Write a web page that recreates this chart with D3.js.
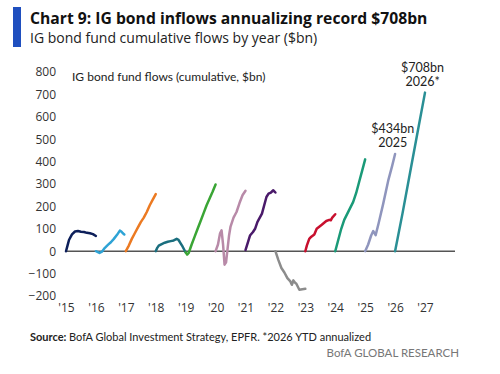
<!DOCTYPE html>
<html>
<head>
<meta charset="utf-8">
<script src="https://cdn.jsdelivr.net/npm/d3@7"></script>
<style>
  body { margin: 0; background: #fff; }
  svg { font-family: "Open Sans", "Noto Sans", sans-serif; }
</style>
</head>
<body>
<div id="chart"></div>
<script>
// cumulative IG bond fund flows, $bn, as [fraction of year, value]
const years = [2015, 2016, 2017, 2018, 2019, 2020, 2021, 2022, 2023, 2024, 2025, 2026];
const flows2015 = [[0,0],[0.05,25],[0.1,50],[0.2,75],[0.3,88],[0.4,90],[0.5,87],[0.6,86],[0.7,82],[0.8,80],[0.9,76],[1,68]];
const flows2016 = [[0,0],[0.05,-3],[0.12,-8],[0.2,-2],[0.3,15],[0.4,28],[0.5,40],[0.6,55],[0.7,72],[0.8,92],[0.85,88],[0.9,80],[0.95,75]];
const flows2017 = [[0,0],[0.1,25],[0.2,55],[0.3,80],[0.4,105],[0.5,130],[0.6,150],[0.7,175],[0.8,205],[0.9,230],[1,255]];
const flows2018 = [[0,0],[0.05,15],[0.1,25],[0.2,32],[0.3,38],[0.4,42],[0.5,45],[0.6,48],[0.7,55],[0.75,52],[0.8,42],[0.9,20],[0.97,2],[1,-5]];
const flows2019 = [[0,-5],[0.05,-15],[0.1,-8],[0.2,30],[0.3,65],[0.4,100],[0.5,135],[0.6,170],[0.7,205],[0.8,235],[0.9,265],[1,298]];
const flows2020 = [[0,0],[0.08,30],[0.15,80],[0.2,93],[0.25,30],[0.3,-60],[0.35,-50],[0.4,10],[0.45,70],[0.5,110],[0.6,150],[0.7,175],[0.8,215],[0.9,250],[1,270]];
const flows2021 = [[0,5],[0.15,70],[0.25,86],[0.32,100],[0.4,131],[0.55,168],[0.7,242],[0.77,257],[0.85,262],[0.93,272],[1,262]];
const flows2022 = [[0,0],[0.1,-40],[0.2,-75],[0.3,-95],[0.4,-120],[0.5,-135],[0.55,-150],[0.6,-130],[0.65,-140],[0.7,-145],[0.8,-172],[0.9,-170],[1,-168]];
const flows2023 = [[0,0],[0.05,25],[0.13,55],[0.2,65],[0.3,75],[0.38,100],[0.55,118],[0.7,135],[0.8,140],[0.85,138],[0.9,150],[1,165]];
const flows2024 = [[0,0],[0.1,50],[0.2,100],[0.3,140],[0.45,180],[0.6,220],[0.7,260],[0.8,310],[0.9,360],[1,410]];
const flows2025 = [[0,0],[0.1,30],[0.2,70],[0.27,90],[0.35,72],[0.45,125],[0.6,210],[0.77,315],[0.9,380],[1,434]];
const flows2026 = [[0,0],[0.25,170],[0.5,350],[0.75,530],[1,708]];
const allFlows = [flows2015, flows2016, flows2017, flows2018, flows2019, flows2020, flows2021, flows2022, flows2023, flows2024, flows2025, flows2026];
const colors = ["#0d1f5a", "#2ea3d5", "#ec7a22", "#1a6e7e", "#3aa535", "#b88aa8", "#4a1a6a", "#8c8c8c", "#c8102e", "#1a9a78", "#8f95bd", "#2a8f95"];
const yTicks = [-200, -100, 0, 100, 200, 300, 400, 500, 600, 700, 800];
const xTicks = [2015, 2016, 2017, 2018, 2019, 2020, 2021, 2022, 2023, 2024, 2025, 2026, 2027];
const callouts = [
    {year: 2025, value: 434, top: "$434bn", bottom: "2025"},
    {year: 2026, value: 708, top: "$708bn", bottom: "2026*"}
];

const width = 500, height = 374;
const narrow = "Lato, \"Open Sans\", sans-serif";
const svg = d3.select("#chart").append("svg")
    .attr("width", width)
    .attr("height", height);

// title block
svg.append("rect")
    .attr("x", 13).attr("y", 7).attr("width", 8).attr("height", 40)
    .attr("fill", "#1f4fbf");
svg.append("text")
    .attr("x", 30).attr("y", 24)
    .style("font-size", "15.7px").style("font-weight", "bold")
    .attr("fill", "#111")
    .text("Chart 9: IG bond inflows annualizing record $708bn");
svg.append("text")
    .attr("x", 30).attr("y", 43)
    .style("font-size", "14px")
    .attr("fill", "#222")
    .text("IG bond fund cumulative flows by year ($bn)");

// scales
const x = d3.scaleLinear().domain([2015, 2027]).range([66, 425]);
const y = d3.scaleLinear().domain([-200, 800]).range([296, 72]);

// y axis: labels only
const yAxis = svg.append("g")
    .attr("transform", "translate(56,0)")
    .call(d3.axisLeft(y).tickValues(yTicks).tickSize(0).tickPadding(0));
yAxis.select(".domain").remove();
yAxis.selectAll("text")
    .style("font-size", "12px")
    .style("font-family", "\"Open Sans\", sans-serif")
    .attr("fill", "#333");

// x axis: labels only
const xAxis = svg.append("g")
    .attr("transform", `translate(0,${y(-200) + 7})`)
    .call(d3.axisBottom(x).tickValues(xTicks).tickSize(0).tickPadding(0)
        .tickFormat(d => "'" + String(d).slice(2)));
xAxis.select(".domain").remove();
xAxis.selectAll("text")
    .style("font-size", "12px")
    .style("font-family", "\"Open Sans\", sans-serif")
    .attr("fill", "#333");

// inner label
svg.append("text")
    .attr("x", 72).attr("y", 81)
    .style("font-size", "12px")
    .style("font-family", narrow)
    .attr("fill", "#222")
    .text("IG bond fund flows (cumulative, $bn)");

// zero line
svg.append("line")
    .attr("x1", x(2015)).attr("x2", 455)
    .attr("y1", y(0)).attr("y2", y(0))
    .attr("stroke", "#555").attr("stroke-width", 1.5);

// one line per year
const line = d3.line()
    .x(d => d[0])
    .y(d => d[1]);

years.forEach((yr, i) => {
    const pts = allFlows[i].map(p => [x(yr + p[0]), y(p[1])]);
    svg.append("path")
        .attr("fill", "none")
        .attr("stroke", colors[i])
        .attr("stroke-width", 2.5)
        .attr("stroke-linejoin", "round")
        .attr("stroke-linecap", "round")
        .attr("d", line(pts));
});

// callouts above the 2025 and 2026 lines
callouts.forEach(c => {
    const cx = x(c.year + 0.92);
    svg.append("text")
        .attr("x", cx).attr("y", y(c.value) - 21)
        .attr("text-anchor", "middle")
        .style("font-size", "12.5px")
        .style("font-family", narrow)
        .attr("fill", "#222")
        .text(c.top);
    svg.append("text")
        .attr("x", cx).attr("y", y(c.value) - 7)
        .attr("text-anchor", "middle")
        .style("font-size", "12.5px")
        .style("font-family", narrow)
        .attr("fill", "#222")
        .text(c.bottom);
});

// footer
const src = svg.append("text")
    .attr("x", 30).attr("y", 341)
    .style("font-size", "11px")
    .style("font-family", narrow)
    .attr("fill", "#222");
src.append("tspan").style("font-weight", "bold").text("Source: ");
src.append("tspan").text("BofA Global Investment Strategy, EPFR. *2026 YTD annualized");

svg.append("text")
    .attr("x", 459).attr("y", 357)
    .attr("text-anchor", "end")
    .style("font-size", "11.5px")
    .style("font-family", narrow)
    .attr("fill", "#777")
    .text("BofA GLOBAL RESEARCH");
</script>
</body>
</html>
